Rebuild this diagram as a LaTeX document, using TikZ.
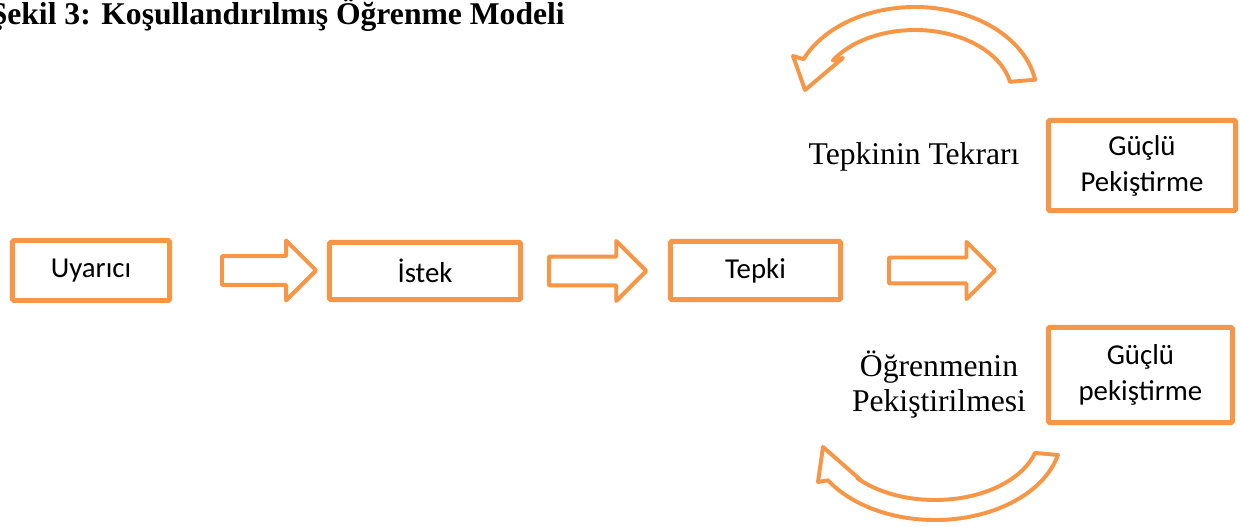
\documentclass[tikz,border=0pt]{standalone}
\usepackage{fontspec}
\setmainfont{Liberation Serif}
\newfontfamily\boxfont{Carlito}
\usepackage{tikz}
\usetikzlibrary{shapes.arrows,positioning,calc}
\definecolor{wordorange}{RGB}{247,150,70}

\begin{document}
\begin{tikzpicture}[
    block/.style={draw=wordorange, line width=3.5pt, fill=white, rounded corners=1pt, align=center, font=\boxfont\fontsize{20.5}{25.6}\selectfont},
    flow/.style={single arrow, draw=wordorange, line width=2.8pt, line join=round, single arrow head extend=0.39cm, single arrow tip angle=90, inner xsep=0pt, inner ysep=0.31cm, anchor=tail},
    turn/.style={draw=wordorange, line width=2.8pt, line join=round},
    caption/.style={align=center, font=\fontsize{22.5}{25}\selectfont}
]
    \useasboundingbox[fill=white] (0,0) rectangle (31,-13.175);

    % Title
    \node[caption, inner sep=0pt, anchor=base east, font=\bfseries\fontsize{22.5}{25}\selectfont] (title) at (14.125,-0.625) {Şekil 3: Koşullandırılmış Öğrenme Modeli};

    % Main chain
    \node[block, minimum width=3.93cm, minimum height=1.5cm] (uyarici) at (2.275,-6.7625) {Uyarıcı};
    \node[block, minimum width=4.78cm, minimum height=1.43cm] (istek) at (10.625,-6.775) {İstek};
    \node[block, minimum width=4.255cm, minimum height=1.455cm] (tepki) at (18.8875,-6.7625) {Tepki};

    % Reinforcement boxes
    \node[block, minimum width=4.68cm, minimum height=2.255cm] (gucluA) at (28.55,-4.1375) {Güçlü\\Pekiştirme};
    \node[block, minimum width=4.6cm, minimum height=2.38cm] (gucluB) at (28.51,-9.375) {Güçlü\\pekiştirme};

    % Block arrows between the steps
    \node[flow, minimum height=2.35cm] (arrA) at ($(uyarici.east)+(1.2,0)$) {};
    \node[flow, minimum height=2.43cm] (arrB) at ($(istek.east)+(0.6,0)$) {};
    \node[flow, minimum height=2.65cm, inner ysep=0.275cm] (arrC) at ($(tepki.east)+(1.1,0)$) {};

    % Side labels
    \node[caption, anchor=base] (tekrar) at (22.85,-4.125) {Tepkinin Tekrarı};
    \node[caption] (pekis) at (23.475,-9.62) {Öğrenmenin\\Pekiştirilmesi};

    % Curved arrows (loops)
    \coordinate (topc) at (22.875,-2.375);
    \coordinate (botc) at (23.375,-10.875);
    \draw[turn] ($(topc)+(10:3.05 and 2.2)$) arc[start angle=10, end angle=156, x radius=3.05, y radius=2.2]
        -- (19.825,-1.4) -- (20.125,-2.25) -- (21.075,-1.45)
        -- ($(topc)+(148:2.425 and 1.625)$) arc[start angle=148, end angle=11.7, x radius=2.425, y radius=1.625] -- cycle;
    \draw[turn] ($(botc)+(-13.6:3.1625 and 2.125)$) arc[start angle=-13.6, end angle=-147.8, x radius=3.1625, y radius=2.125]
        -- (20.45,-12.05) -- (20.575,-11.175) -- (21.575,-12.05)
        -- ($(botc)+(-138.6:2.6 and 1.625)$) arc[start angle=-138.6, end angle=-16, x radius=2.6, y radius=1.625] -- cycle;
\end{tikzpicture}
\end{document}
